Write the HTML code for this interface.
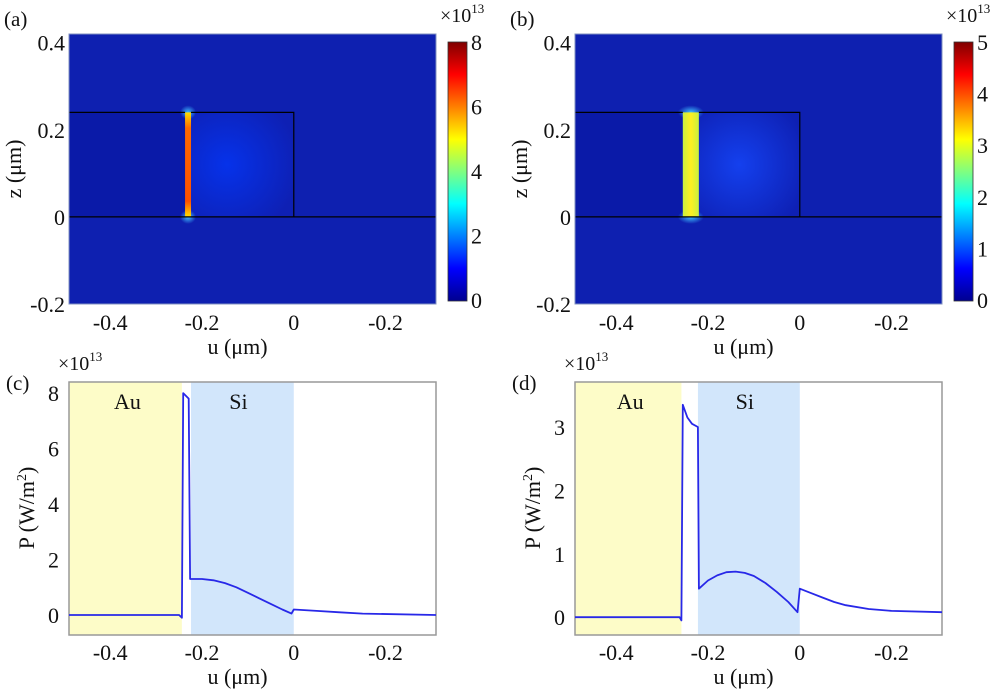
<!DOCTYPE html>
<html><head><meta charset="utf-8"><style>
body{margin:0;background:#fff;}
svg text{font-family:"Liberation Serif",serif;fill:#111;}
</style></head><body>
<svg id="fig" width="1000" height="691" viewBox="0 0 1000 691" xmlns="http://www.w3.org/2000/svg">
<defs>
<linearGradient id="jet" x1="0" y1="1" x2="0" y2="0">
<stop offset="0" stop-color="#00008f"/><stop offset="0.125" stop-color="#0000ff"/><stop offset="0.375" stop-color="#00ffff"/><stop offset="0.625" stop-color="#ffff00"/><stop offset="0.875" stop-color="#ff0000"/><stop offset="1" stop-color="#800000"/>
</linearGradient>
<radialGradient id="glowA" cx="0.35" cy="0.5" r="0.7"><stop offset="0" stop-color="#0632ea"/><stop offset="1" stop-color="#0e20b4"/></radialGradient>
<radialGradient id="glowB" cx="0.4" cy="0.5" r="0.7"><stop offset="0" stop-color="#1440ee"/><stop offset="1" stop-color="#0e20b4"/></radialGradient>
<radialGradient id="spot"><stop offset="0" stop-color="#40c0ff"/><stop offset="1" stop-color="#40c0ff" stop-opacity="0"/></radialGradient>
<linearGradient id="stripA" x1="0" y1="0" x2="0" y2="1"><stop offset="0" stop-color="#ffe000"/><stop offset="0.15" stop-color="#ff6a00"/><stop offset="0.85" stop-color="#ff5000"/><stop offset="1" stop-color="#ffe000"/></linearGradient>
<linearGradient id="stripB" x1="0" y1="0" x2="1" y2="0"><stop offset="0" stop-color="#c8f040"/><stop offset="0.5" stop-color="#fff020"/><stop offset="1" stop-color="#c8f040"/></linearGradient>
</defs>
<g id="root"></g>
</svg>
<script>
// panel c data
const uC = [-0.49,-0.25,-0.244,-0.241,-0.229,-0.226,-0.2,-0.175,-0.15,-0.125,-0.1,-0.075,-0.05,-0.025,-0.005,0.0,0.05,0.1,0.15,0.31];
const pC = [0,0,-0.1,8.0,7.8,1.3,1.3,1.25,1.15,1.0,0.8,0.6,0.4,0.2,0.05,0.2,0.15,0.1,0.05,0.0];
// panel d data
const uD = [-0.49,-0.262,-0.258,-0.255,-0.245,-0.235,-0.222,-0.22,-0.2,-0.18,-0.16,-0.14,-0.12,-0.1,-0.075,-0.05,-0.025,-0.005,0.0,0.025,0.05,0.075,0.1,0.15,0.2,0.31];
const pD = [0,0,-0.05,3.35,3.15,3.05,3.0,0.45,0.58,0.66,0.71,0.72,0.7,0.65,0.54,0.4,0.24,0.08,0.45,0.38,0.31,0.24,0.19,0.13,0.1,0.08];
const xTickVals = [-0.4,-0.2,0,0.2];
const xTickLabels = ["-0.4","-0.2","0","-0.2"];
const zTickVals = [0.4,0.2,0,-0.2];
const cbTicksA = [0,2,4,6,8];
const cbTicksB = [0,1,2,3,4,5];
const yTicksC = [0,2,4,6,8];
const yTicksD = [0,1,2,3];

const NS="http://www.w3.org/2000/svg";
const root=document.getElementById('root');
function mk(tag,attrs,parent,txt){const e=document.createElementNS(NS,tag);for(const k in attrs)e.setAttribute(k,attrs[k]);if(txt!==undefined)e.textContent=txt;(parent||root).appendChild(e);return e;}
const FS='22';
function panel(ox){
  const L=69+ox, R=436+ox;
  const xs=u=>L+(u+0.49)/0.8*(R-L);
  return {L,R,xs};
}
function xAxis(g,xs,y){
  xTickVals.forEach((v,i)=>{
    const t=mk('text',{x:xs(v),y:y,'text-anchor':'middle','font-size':FS},g,xTickLabels[i]);
    
    
  });
}
function heat(ox,lab,stripFill,glow,stripL,stripR,cbTicks,cbMax){
  const g=mk('g',{});
  const P=panel(ox);const xs=P.xs;
  const zs=z=>304-(z+0.2)/0.62*270;
  mk('rect',{x:P.L,y:34,width:P.R-P.L,height:270,fill:'#0e20b0',},g);
  mk('rect',{x:xs(stripR),y:zs(0.24),width:xs(0)-xs(stripR),height:zs(0)-zs(0.24),fill:glow,},g);
  mk('rect',{x:P.L,y:zs(0.24),width:xs(stripL)-P.L,height:zs(0)-zs(0.24),fill:'#0a1aa8',},g);
  const cxm=(xs(stripL)+xs(stripR))/2, rw=(xs(stripR)-xs(stripL))/2+5;
  mk('ellipse',{cx:cxm,cy:zs(0.24),rx:rw,ry:7,fill:'url(#spot)',},g);
  mk('ellipse',{cx:cxm,cy:zs(0),rx:rw,ry:7,fill:'url(#spot)',},g);
  mk('rect',{x:xs(stripL),y:zs(0.24),width:xs(stripR)-xs(stripL),height:zs(0)-zs(0.24),fill:stripFill,},g);
  mk('path',{d:`M${P.L},${zs(0.24)}H${xs(stripL)}M${xs(stripR)},${zs(0.24)}H${xs(0)}V${zs(0)}M${P.L},${zs(0)}H${P.R}`,stroke:'#000',fill:'none','stroke-width':1.2,},g);
  mk('rect',{x:P.L,y:34,width:P.R-P.L,height:270,fill:'none',stroke:'#8090c0',},g);
  zTickVals.forEach(v=>{const t=mk('text',{x:P.L-4,y:zs(v)+8,'text-anchor':'end','font-size':FS},g,String(v));
    });
  xAxis(g,xs,330);
  mk('text',{x:(P.L+P.R)/2-15,y:354,'text-anchor':'middle','font-size':FS,},g,'u (μm)');
  mk('text',{x:0,y:0,transform:`translate(${P.L-48},169) rotate(-90)`,'text-anchor':'middle','font-size':FS,},g,'z (μm)');
  mk('text',{x:4+ox,y:26,'font-size':'21',},g,'('+lab+')');
  const cx=448+ox;
  mk('rect',{x:cx,y:42,width:19,height:259,fill:'url(#jet)',stroke:'#333','stroke-width':0.8,},g);
  cbTicks.forEach(v=>{const y=300-v/cbMax*258;const t=mk('text',{x:cx+23,y:y+8,'font-size':FS},g,String(v));
    });
  const e=mk('text',{x:cx-8,y:22,'font-size':'20',},g,'×10');
  mk('tspan',{dy:'-9','font-size':'13'},e,'13');
}
heat(0,'a','url(#stripA)','url(#glowA)',-0.237,-0.224,cbTicksA,8);
heat(506,'b','url(#stripB)','url(#glowB)',-0.255,-0.22,cbTicksB,5);

function linePanel(ox,lab,us,ps,ymin,ymax,yticks,auEnd,siStart){
  const g=mk('g',{});
  const P=panel(ox);const xs=P.xs;
  const T=382,B=635;const ys=v=>B-(v-ymin)/(ymax-ymin)*(B-T);
  mk('rect',{x:P.L,y:T,width:xs(auEnd)-P.L,height:B-T,fill:'#fdfcc8',},g);
  mk('rect',{x:xs(siStart),y:T,width:xs(0)-xs(siStart),height:B-T,fill:'#d2e6fb',},g);
  mk('rect',{x:P.L,y:T,width:P.R-P.L,height:B-T,fill:'none',stroke:'#999','stroke-width':1.5,},g);
  mk('text',{x:xs((-0.49+auEnd)/2)+2,y:409,'text-anchor':'middle','font-size':FS,},g,'Au');
  mk('text',{x:xs((siStart)/2)-4,y:409,'text-anchor':'middle','font-size':FS,},g,'Si');
  const d=us.map((u,i)=>(i?'L':'M')+xs(u).toFixed(1)+','+ys(ps[i]).toFixed(1)).join('');
  mk('path',{d:d,fill:'none',stroke:'#2828e8','stroke-width':1.8,'stroke-linejoin':'round',},g);
  yticks.forEach(v=>{const t=mk('text',{x:P.L-10,y:ys(v)+8,'text-anchor':'end','font-size':FS},g,String(v));
    });
  xAxis(g,xs,660);
  mk('text',{x:(P.L+P.R)/2-15,y:684,'text-anchor':'middle','font-size':FS,},g,'u (μm)');
  const yt=mk('text',{x:0,y:0,transform:`translate(${P.L-35},508) rotate(-90)`,'text-anchor':'middle','font-size':FS,},g,'P (W/m');
  mk('tspan',{dy:'-8','font-size':'14'},yt,'2');
  mk('tspan',{dy:'8'},yt,')');
  mk('text',{x:6+ox,y:390,'font-size':'21',},g,'('+lab+')');
  const e=mk('text',{x:P.L-11,y:370,'font-size':'20',},g,'×10');
  mk('tspan',{dy:'-9','font-size':'13'},e,'13');
}
linePanel(0,'c',uC,pC,-0.72,8.4,yTicksC,-0.244,-0.224);
linePanel(506,'d',uD,pD,-0.28,3.71,yTicksD,-0.258,-0.222);
</script>
</body></html>
